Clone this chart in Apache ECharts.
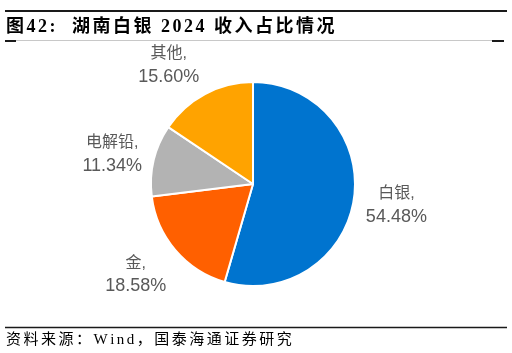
<!DOCTYPE html>
<html>
<head>
<meta charset="utf-8">
<script src="https://cdn.jsdelivr.net/npm/echarts@6/dist/echarts.min.js"></script>
<style>
html,body{margin:0;padding:0;background:#fff;}
#chart{width:512px;height:353px;}
</style>
</head>
<body>
<div id="chart"></div>
<script>
const categories = ['白银', '金', '电解铅', '其他'];
const values = [54.48, 18.58, 11.34, 15.60];
const colors = ['#0074CF', '#FF6000', '#B3B3B3', '#FFA300'];
const titleText = '图42:  湖南白银 2024 收入占比情况';
const sourceText = '资料来源：Wind，国泰海通证券研究';

const PIE_CX = 253, PIE_CY = 184, PIE_R = 102;
const total = values.reduce((a, b) => a + b, 0);

const data = categories.map((c, i) => ({ name: c, value: values[i], itemStyle: { color: colors[i] } }));

const measureCtx = document.createElement('canvas').getContext('2d');
function spacedText(str, x, yMid, font, spacing, color) {
  measureCtx.font = font;
  const els = [];
  let px = x;
  for (const ch of str) {
    if (ch !== ' ') {
      els.push({ type: 'text', x: px, y: yMid, silent: true,
        style: { text: ch, font: font, fill: color, verticalAlign: 'middle', align: 'left' } });
    }
    px += measureCtx.measureText(ch).width + spacing;
  }
  return els;
}

const chart = echarts.init(document.getElementById('chart'), null, { renderer: 'canvas' });
const serif = '"Liberation Serif","Noto Sans CJK SC",serif';
const sans = '"Liberation Sans","Noto Sans CJK SC",sans-serif';

chart.setOption({
  animation: false,
  backgroundColor: '#fff',
  series: [
    {
      type: 'pie',
      center: [PIE_CX, PIE_CY],
      radius: [0, PIE_R],
      startAngle: 90,
      clockwise: true,
      silent: true,
      labelLine: { show: false },
      itemStyle: { borderColor: '#fff', borderWidth: 2 },
      label: {
        show: true,
        position: 'inside',
        color: '#595959',
        lineHeight: 23,
        formatter: p => '{n|' + p.name + ',}\n{v|' + p.value.toFixed(2) + '%}',
        rich: {
          n: { fontSize: 16, fontFamily: sans, color: '#595959', lineHeight: 23 },
          v: { fontSize: 18, fontFamily: sans, color: '#595959', lineHeight: 23 }
        }
      },
      labelLayout: function (p) {
        const i = p.dataIndex;
        let cum = 0;
        for (let j = 0; j < i; j++) cum += values[j];
        const mid = (cum + values[i] / 2) / total * Math.PI * 2;
        const nx = Math.sin(mid), ny = -Math.cos(mid);
        const w = p.labelRect.width, h = p.labelRect.height;
        const gap = 12;
        const ex = PIE_CX + PIE_R * nx, ey = PIE_CY + PIE_R * ny;
        return {
          x: ex + gap * nx + Math.sign(nx) * w / 2,
          y: ey + gap * ny + ny * h / 2 + 2,
          align: 'center',
          verticalAlign: 'middle'
        };
      },
      data: data
    }
  ],
  graphic: [
    { type: 'line', silent: true, shape: { x1: 5, y1: 11, x2: 507, y2: 11 }, style: { stroke: '#1a1a1a', lineWidth: 2 } },
    { type: 'line', silent: true, shape: { x1: 5, y1: 40.5, x2: 504, y2: 40.5 }, style: { stroke: '#c8c8c8', lineWidth: 1 } },
    { type: 'line', silent: true, shape: { x1: 5, y1: 41, x2: 16, y2: 41 }, style: { stroke: '#1a1a1a', lineWidth: 2 } },
    { type: 'line', silent: true, shape: { x1: 492, y1: 41, x2: 504, y2: 41 }, style: { stroke: '#1a1a1a', lineWidth: 2 } },
    { type: 'line', silent: true, shape: { x1: 5, y1: 327.5, x2: 507, y2: 327.5 }, style: { stroke: '#1a1a1a', lineWidth: 1.5 } }
  ]
    .concat(spacedText(titleText, 6, 27, 'bold 18px ' + serif, 2.5, '#000'))
    .concat(spacedText(sourceText, 6, 340, '15px ' + serif, 2.5, '#000'))
});
</script>
</body>
</html>
